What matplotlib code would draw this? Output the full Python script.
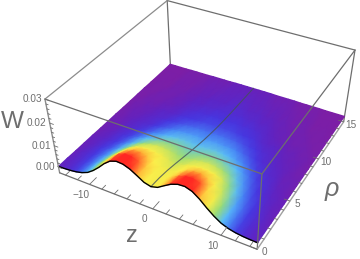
import matplotlib
matplotlib.use('Agg')
import matplotlib.pyplot as plt
import numpy as np
from matplotlib.colors import LinearSegmentedColormap

plt.rcParams['font.family'] = ['Liberation Sans', 'DejaVu Sans']

# W in units of 1e-4, z >= 0 only (the surface is mirrored)
z_half = [0, 1, 2, 3, 4, 5, 6, 7, 8, 9, 10, 11, 12, 13, 14, 15]
rho_values = [0, 1, 2, 3, 4, 5, 6, 7, 8, 9, 10, 11, 12, 15]
w_rows = [
	[77, 85, 104, 122, 133, 135, 125, 103, 75, 50, 30, 18, 11, 7, 5, 4],
	[75, 83, 100, 116, 126, 128, 118, 97, 71, 48, 29, 17, 11, 7, 5, 4],
	[69, 75, 89, 101, 108, 108, 99, 82, 60, 41, 25, 16, 10, 7, 5, 3],
	[60, 64, 73, 80, 84, 82, 75, 62, 46, 32, 20, 13, 9, 6, 4, 3],
	[50, 53, 58, 61, 62, 59, 53, 44, 33, 23, 15, 10, 7, 5, 4, 3],
	[40, 42, 44, 45, 44, 41, 36, 30, 23, 16, 11, 8, 6, 4, 3, 2],
	[31, 32, 33, 33, 31, 28, 24, 20, 15, 11, 8, 6, 5, 3, 3, 2],
	[23, 24, 24, 23, 22, 19, 16, 13, 10, 7, 6, 5, 4, 3, 2, 2],
	[17, 17, 17, 16, 15, 13, 11, 9, 7, 6, 5, 4, 3, 3, 2, 1],
	[12, 12, 12, 11, 10, 9, 8, 6, 5, 5, 4, 3, 3, 2, 2, 1],
	[9, 9, 9, 8, 8, 7, 6, 5, 4, 3, 3, 2, 2, 2, 1, 1],
	[7, 7, 7, 6, 6, 5, 5, 4, 3, 3, 2, 2, 2, 1, 1, 1],
	[6, 6, 5, 5, 5, 4, 4, 3, 3, 2, 2, 2, 1, 1, 1, 0],
	[3, 3, 3, 3, 2, 2, 2, 2, 1, 1, 1, 1, 0, 0, 0, 0],
]
z_ticks = [-10, 0, 10]
rho_ticks = [0, 5, 10, 15]
w_ticks = [0.00, 0.01, 0.02, 0.03]

GREY = '#6e6e6e'
W_LOW = -0.0027

# camera: box corners (z, rho, W) and where they land in the picture
corners = [
	(-15, 0, 0), (15, 0, 0), (15, 15, 0), (-15, 15, 0),
	(-15, 0, 0.03), (15, 0, 0.03), (15, 15, 0.03), (-15, 15, 0.03),
]
corner_px = [
	(58, 166), (258, 243), (345, 117), (170, 65),
	(45, 100), (262, 175), (354, 49), (168, 0),
]


def fit_camera():
	rows = []
	for (z, r, w), (u, v) in zip(corners, corner_px):
		p = [z, r, w * 1000, 1]
		rows.append(p + [0, 0, 0, 0] + [-u * c for c in p])
		rows.append([0, 0, 0, 0] + p + [-v * c for c in p])
	return np.linalg.svd(np.array(rows, dtype=float))[2][-1].reshape(3, 4)


cam = fit_camera()


def project(z, r, w):
	z, r, w = np.broadcast_arrays(z, r, w)
	p = np.stack([z, r, w * 1000, np.ones_like(z, dtype=float)])
	q = np.tensordot(cam, p, axes=1)
	return q[0] / q[2], q[1] / q[2]


rainbow = LinearSegmentedColormap.from_list('rainbowish', [
	(0.0, '#7d1ea5'),
	(0.03, '#5f23c3'),
	(0.07, '#4637e1'),
	(0.14, '#4682f5'),
	(0.22, '#5abefa'),
	(0.36, '#96dc78'),
	(0.5, '#f0eb4b'),
	(0.68, '#fff04b'),
	(0.8, '#ffa032'),
	(0.91, '#ff2823'),
	(1.0, '#ff2823'),
])

w_half = np.array(w_rows) * 1e-4
w_grid = np.hstack([w_half[:, :0:-1], w_half])
z_all = np.concatenate([-np.array(z_half[:0:-1]), z_half])
rho_all = np.array(rho_values, dtype=float)
Z, R = np.meshgrid(z_all, rho_all)
X, Y = project(Z, R, w_grid)

fig = plt.figure(figsize=(3.6, 2.59), dpi=100)
ax = fig.add_axes([0, 0, 1, 1])
ax.set_xlim(0, 360)
ax.set_ylim(259, 0)
ax.axis('off')


def edge(a, b, color=GREY, lw=0.9, zorder=1):
	x, y = project([a[0], b[0]], [a[1], b[1]], [a[2], b[2]])
	ax.plot(x, y, color=color, lw=lw, zorder=zorder, solid_capstyle='round')


# back of the box, behind the surface
edge((-15, 15, W_LOW), (-15, 15, 0.03))
edge((15, 15, W_LOW), (15, 15, 0.03))
edge((-15, 15, 0.03), (15, 15, 0.03))
edge((-15, 0, 0.03), (-15, 15, 0.03), color='#8c8c8c')

# back rows first so the nearer ones paint over them
ax.pcolormesh(X[::-1], Y[::-1], w_grid[::-1], cmap=rainbow, vmin=0, vmax=0.0135,
	shading='gouraud', zorder=2)

# the z = 0 line on the surface and the black rim at rho = 0
i0 = list(z_all).index(0)
ax.plot(X[:, i0], Y[:, i0], color='#45505a', lw=0.8, alpha=0.8, zorder=3)
ax.plot(X[0], Y[0], color='black', lw=1.0, zorder=4)

# front of the box, over the surface
edge((-15, 0, 0.03), (15, 0, 0.03), zorder=5)
edge((15, 0, 0.03), (15, 15, 0.03), zorder=5)
edge((15, 0, W_LOW), (15, 0, 0.03), zorder=5)
edge((-15, 0, W_LOW), (-15, 0, 0.03), color='#8c8c8c', lw=1.0, zorder=5)
edge((-15, 0, W_LOW), (15, 0, W_LOW), zorder=5)
edge((15, 0, W_LOW), (15, 15, W_LOW), color='#a0a0a0', lw=1.0, zorder=5)

# ticks
for t in np.arange(-14, 15, 2):
	size = 0.8 if t % 10 == 0 else 0.45
	edge((t, 0, W_LOW), (t, size, W_LOW), lw=0.6, zorder=5)
for t in np.arange(0, 16):
	size = 0.8 if t % 5 == 0 else 0.45
	edge((15, t, W_LOW), (15 - size, t, W_LOW), lw=0.6, zorder=5)
for t in np.arange(0, 0.0301, 0.002):
	size = 0.6 if round(t * 1000) % 10 == 0 else 0.35
	edge((-15, 0, t), (-15 + size, 0, t), lw=0.6, zorder=5)

# tick labels
tick_font = dict(fontsize=7.2, color=GREY, va='center', zorder=6)
for t in z_ticks:
	x, y = project(t, 0, W_LOW)
	label = '\u221210' if t < 0 else str(t)
	ax.text(x - 8, y + 10.5, label, ha='center', **tick_font)
for t in rho_ticks:
	x, y = project(15, t, W_LOW)
	ax.text(x + 7, y + 3, str(t), ha='center', **tick_font)
for t in w_ticks:
	x, y = project(-15, 0, t)
	ax.text(x - 3, y, '%.2f' % t, ha='right', **tick_font)

# axis names
ax.text(12, 122, 'W', fontsize=17.5, color=GREY, ha='center', va='center')
ax.text(132, 236, 'z', fontsize=17, color=GREY, ha='center', va='center')
ax.text(332, 189, '\u03c1', fontsize=18, color=GREY, ha='center', va='center', style='italic')

fig.savefig('out.png', dpi=100)
